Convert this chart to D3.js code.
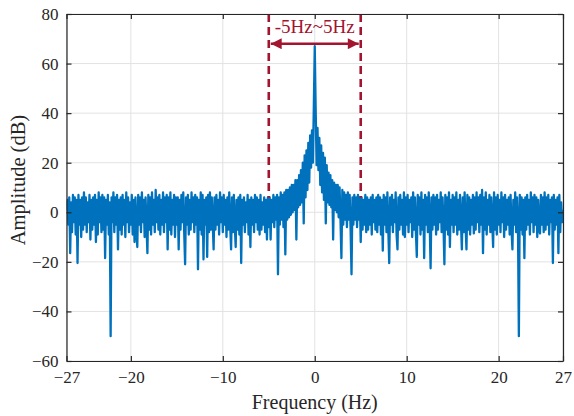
<!DOCTYPE html>
<html>
<head>
<meta charset="utf-8">
<script src="https://cdn.jsdelivr.net/npm/d3@7/dist/d3.min.js"></script>
<style>
  html, body { margin: 0; padding: 0; background: #ffffff; }
  svg { display: block; }
  text { font-family: "Liberation Serif", "Times New Roman", serif; }
</style>
</head>
<body>
<svg id="chart" width="574" height="416"></svg>
<script>
// ---- data ----
const freqStart = -27;       // Hz, first sample
const freqStep = 0.1;        // Hz, sample spacing
const amplitude = [
  1, 5, -5, 6, -16.5, 4, -8, 7, -4, 6, -9, 5, -20.5, 7, -5, 5, -10, 6, -7, 8,
  -5, 6, -8, 4, -4, 7, -11, 5, -7, 6, -5, 7, -12, 5, -9, 8, -4, 6, -8, 7,
  -7, 6, -18.5, 5, -5, 7, -9, 4, -50, 6, -4, 8, -8, 6, -5, 7, -15, 5, -7, 6,
  -9, 7, -5, 5, -10, 8, -4, 6, -8, 4, -5, 7, -9, 5, -12, 6, -7, -14, 7, -5,
  6, -8, 8, -4, 5, -10, 6, -5, -16.5, 7, -7, 6, -9, 8, -5, 5, -8, 9, -4, 6,
  -7, 7, -9, 5, -5, 8, -8, 6, -4, 7, -15, 6, -7, 8, -9, 5, -5, 7, -10, 6,
  -5, 6, -15, 5, -7, 7, -4, 8, -8, -21, 6, -5, 7, -9, 5, -7, 8, -4, 6, -8,
  7, -5, 6, -23, 5, -7, 8, -9, 7, -19, 5, -5, 6, -18, 7, -8, 8, -7, 6, -4,
  -15, 6, -7, 7, -5, 5, -9, 8, -4, 6, -8, 7, -5, 5, -10, 6, -7, 8, -5, -15,
  6, -8, 7, -5, -14, 5, -7, 6, -9, 7, -20.5, 5, -5, 6, -8, 4, -4, 7, -9, 5,
  -14, 6, -5, 5, -8, 7, -4, 6, -7, 5, -9, 7, -7, 4, -5, 6, -8, 5, -11, 6,
  -6, 6, -11, 5, -4, 7, -6, 6, -3, 7, -25, 6, -5, 8, -3, 7, -6, 8, -17, 9,
  -3, 9, -2, 10, -1, 11, 0, 11, 1, 13, -11, 13, 2, 15, 3, 17, 4, 20, -4.5, 23,
  6, 25, 9, 28, 12, 31, 18, 33, 20, 43, 67, 42, 19, 34, 17, 30, 11, 27, 8, 24,
  5, 22, -4.5, 19, 4, 16, 3, 15, 2, 13, -11, 12, 1, 11, 0, 11, -2, 10, -3, -18.5,
  9, -5, 8, -3, 7, -6, 8, -3, 7, -7, -25, 6, -5, 7, -3, 6, -6, 7, -3, 6,
  -12, 6, -7, 5, -5, 7, -8, 6, -7, 5, -5, 6, -9, 7, -4, 5, -7, 6, -8, 7,
  -5, 6, -9, 5, -15.5, 7, -5, 6, -8, 8, -7, -20.5, 6, -5, 7, -8, 5, -4, 8, -9,
  -15, 6, -7, 7, -5, 5, -9, 8, -10, 6, -5, 7, -8, 5, -4, 6, -10, 8, -7, 6,
  -8, -18, 7, -5, 6, -9, 8, -7, 5, -18.5, 7, -5, 6, -8, 8, -4, -22.6, 6, -7, 7,
  -5, 6, -9, 7, -7, 5, -4, 8, -8, 6, -5, -21, 7, -7, 6, -9, 8, -14, 5, -5,
  7, -8, 6, -5, 8, -9, 5, -7, 7, -4, -15, 6, -8, 8, -5, -15, 7, -7, 6, -9,
  5, -5, 7, -8.5, 6, -7, 8, -4, 6, -8, 7, -5, 9, -16.5, 6, -7, 8, -9, 5, -5,
  7, -8, 6, -4, -14, 8, -7, 6, -9, 7, -5, 5, -8, 8, -4, 6, -10, 7, -7, 5,
  -5, 6, -9, 7, -7, -15, 5, -5, 8, -8, 6, -4, -50, 7, -7, 6, -9, 5, -18.5, 6,
  -7, 7, -5, 5, -9, 8, -4, 6, -8, 7, -5, 6, -10, 5, -7, -8.5, 7, -5, 6, -8,
  8, -7, 6, -5, 7, -9, 5, -4, 6, -20.5, 7, -7, 5, -5, 6, -16.5, 7, -8, 4, -4,
  1
];
const xTicks = [-27, -20, -10, 0, 10, 20, 27];
const yTicks = [-60, -40, -20, 0, 20, 40, 60, 80];
const xDomain = [-27, 27];
const yDomain = [-60, 80];
const bandEdges = [-5, 5];          // Hz, dashed markers
const bandLineRange = [6, 80];      // dB, vertical extent of dashed markers
const arrowLevel = 68;              // dB
const labelLevel = 72.5;            // dB (text baseline)
const bandLabel = "-5Hz~5Hz";
const xLabel = "Frequency (Hz)";
const yLabel = "Amplitude (dB)";

// ---- layout ----
const W = 574, H = 416;
const plot = { left: 66.5, right: 563, top: 14, bottom: 361 };
const blue = "#0072BD", red = "#A2142F", axisCol = "#262626", gridCol = "#e2e2e2";

const svg = d3.select("#chart");
const x = d3.scaleLinear().domain(xDomain).range([plot.left, plot.right]);
const y = d3.scaleLinear().domain(yDomain).range([plot.bottom, plot.top]);

const data = amplitude.map((v, i) => ({ f: freqStart + i * freqStep, a: v }));

// grid
const grid = svg.append("g");
grid.selectAll("line.gx").data(xTicks).join("line")
  .attr("x1", d => x(d)).attr("x2", d => x(d))
  .attr("y1", plot.top).attr("y2", plot.bottom)
  .attr("stroke", gridCol).attr("stroke-width", 1);
grid.selectAll("line.gy").data(yTicks).join("line")
  .attr("x1", plot.left).attr("x2", plot.right)
  .attr("y1", d => y(d)).attr("y2", d => y(d))
  .attr("stroke", gridCol).attr("stroke-width", 1);

// clip
svg.append("clipPath").attr("id", "clip").append("rect")
  .attr("x", plot.left).attr("y", plot.top)
  .attr("width", plot.right - plot.left).attr("height", plot.bottom - plot.top);

// spectrum line
svg.append("path")
  .datum(data)
  .attr("clip-path", "url(#clip)")
  .attr("fill", "none")
  .attr("stroke", blue)
  .attr("stroke-width", 2.3)
  .attr("stroke-linejoin", "round")
  .attr("d", d3.line().x(d => x(d.f)).y(d => y(d.a)));

// dashed band markers
svg.append("g").selectAll("line").data(bandEdges).join("line")
  .attr("x1", d => x(d)).attr("x2", d => x(d))
  .attr("y1", y(bandLineRange[1])).attr("y2", y(bandLineRange[0]))
  .attr("stroke", red).attr("stroke-width", 2.6)
  .attr("stroke-dasharray", "8,5");

// double arrow
const defs = svg.append("defs");
defs.append("marker").attr("id", "ahead")
  .attr("viewBox", "0 0 10 10").attr("refX", 10).attr("refY", 5)
  .attr("markerWidth", 5).attr("markerHeight", 4.2)
  .attr("orient", "auto-start-reverse")
  .append("path").attr("d", "M0,0 L10,5 L0,10 Z").attr("fill", red);
svg.append("line")
  .attr("x1", x(bandEdges[0]) + 2).attr("x2", x(bandEdges[1]) - 2)
  .attr("y1", y(arrowLevel)).attr("y2", y(arrowLevel))
  .attr("stroke", red).attr("stroke-width", 2.6)
  .attr("marker-start", "url(#ahead)").attr("marker-end", "url(#ahead)");

svg.append("text")
  .attr("x", x((bandEdges[0] + bandEdges[1]) / 2))
  .attr("y", y(labelLevel))
  .attr("text-anchor", "middle")
  .attr("fill", red)
  .attr("font-size", 19)
  .text(bandLabel);

// axes (MATLAB style, ticks inward, box)
const xAxisB = d3.axisBottom(x).tickValues(xTicks).tickFormat(d3.format("d"))
  .tickSizeInner(-5).tickSizeOuter(0).tickPadding(10);
const xAxisT = d3.axisTop(x).tickValues(xTicks).tickFormat("")
  .tickSizeInner(-5).tickSizeOuter(0);
const yAxisL = d3.axisLeft(y).tickValues(yTicks).tickFormat(d3.format("d"))
  .tickSizeInner(-5).tickSizeOuter(0).tickPadding(8);
const yAxisR = d3.axisRight(y).tickValues(yTicks).tickFormat("")
  .tickSizeInner(-5).tickSizeOuter(0);

function styleAxis(g) {
  g.select(".domain").attr("stroke", axisCol).attr("stroke-width", 1.2);
  g.selectAll(".tick line").attr("stroke", axisCol).attr("stroke-width", 1.2);
  g.selectAll(".tick text").attr("fill", axisCol)
    .attr("font-family", "'Liberation Serif', 'Times New Roman', serif")
    .attr("font-size", 17);
}
svg.append("g").attr("transform", `translate(0,${plot.bottom})`).call(xAxisB).call(styleAxis);
svg.append("g").attr("transform", `translate(0,${plot.top})`).call(xAxisT).call(styleAxis);
svg.append("g").attr("transform", `translate(${plot.left},0)`).call(yAxisL).call(styleAxis);
svg.append("g").attr("transform", `translate(${plot.right},0)`).call(yAxisR).call(styleAxis);

// axis titles
svg.append("text")
  .attr("x", (plot.left + plot.right) / 2)
  .attr("y", 409)
  .attr("text-anchor", "middle")
  .attr("fill", axisCol)
  .attr("font-size", 20)
  .text(xLabel);
svg.append("text")
  .attr("transform", `translate(25,180) rotate(-90)`)
  .attr("text-anchor", "middle")
  .attr("fill", axisCol)
  .attr("font-size", 20.5)
  .text(yLabel);
</script>
</body>
</html>
